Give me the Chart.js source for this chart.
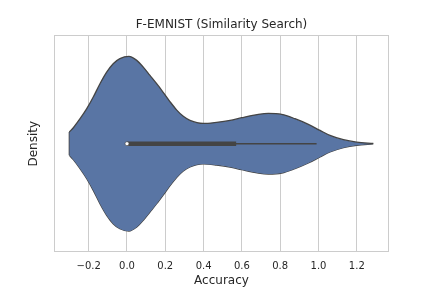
<!DOCTYPE html>
<html>
<head>
<meta charset="utf-8">
<script src="https://cdn.jsdelivr.net/npm/chart.js@4/dist/chart.umd.min.js"></script>
<style>
  html, body { margin: 0; padding: 0; background: #fff; }
  #wrap { width: 432px; height: 288px; }
</style>
</head>
<body>
<div id="wrap"><canvas id="chart" width="432" height="288"></canvas></div>
<script>
// Violin outline: accuracy grid and half-width (density, peak = 1)
const accuracyGrid = [-0.301, -0.280, -0.245, -0.210, -0.176, -0.141, -0.106, -0.072, -0.037, 0.010,
                      0.051, 0.085, 0.120, 0.155, 0.190, 0.225, 0.260, 0.294, 0.329, 0.398,
                      0.468, 0.538, 0.599, 0.686, 0.738, 0.808, 0.877, 0.947, 1.008, 1.060,
                      1.130, 1.199, 1.286];
const densityHalf = [0.133, 0.183, 0.286, 0.401, 0.534, 0.687, 0.820, 0.916, 0.974, 1.0,
                     0.954, 0.877, 0.782, 0.687, 0.585, 0.480, 0.385, 0.313, 0.267, 0.232,
                     0.245, 0.267, 0.298, 0.336, 0.347, 0.336, 0.286, 0.221, 0.152, 0.095,
                     0.046, 0.018, 0.003];

// Inner box plot
const boxRange = [0.0, 0.57];       // Q1 .. Q3
const whiskerRange = [0.0, 0.99];
const medianValue = 0.0;

const xTicks = [-0.2, 0.0, 0.2, 0.4, 0.6, 0.8, 1.0, 1.2];

const VIOLIN_FILL = '#5975a4';
const LINE_DARK = '#444444';
const GRID = '#cccccc';

Chart.defaults.font.family = "'DejaVu Sans', sans-serif";
Chart.defaults.color = '#262626';

const upper = accuracyGrid.map((x, i) => ({ x, y: densityHalf[i] }));
const lower = accuracyGrid.map((x, i) => ({ x, y: -densityHalf[i] }));
const leftEdge = [lower[0], upper[0]];

const spinePlugin = {
    id: 'spines',
    beforeDatasetsDraw(chart) {
        const { ctx, chartArea: a } = chart;
        ctx.save();
        ctx.strokeStyle = GRID;
        ctx.lineWidth = 1;
        ctx.strokeRect(Math.round(a.left) + 0.5, Math.round(a.top) + 0.5,
                       Math.round(a.right - a.left) - 1, Math.round(a.bottom - a.top) - 1);
        ctx.restore();
    }
};

const outlineStyle = {
    showLine: true,
    borderColor: LINE_DARK,
    borderWidth: 1.3,
    pointRadius: 0,
    order: 10
};

new Chart(document.getElementById('chart'), {
    type: 'scatter',
    data: {
        datasets: [
            { ...outlineStyle, label: 'upper', data: upper, fill: '+1',
              backgroundColor: VIOLIN_FILL, cubicInterpolationMode: 'monotone' },
            { ...outlineStyle, label: 'lower', data: lower, fill: false,
              cubicInterpolationMode: 'monotone' },
            { ...outlineStyle, label: 'edge', data: leftEdge, fill: false },
            {
                label: 'whisker',
                data: whiskerRange.map(x => ({ x, y: 0 })),
                showLine: true,
                borderColor: LINE_DARK,
                borderWidth: 1.6,
                pointRadius: 0,
                order: 3
            },
            {
                label: 'box',
                data: boxRange.map(x => ({ x, y: 0 })),
                showLine: true,
                borderColor: LINE_DARK,
                borderWidth: 4.5,
                pointRadius: 0,
                order: 2
            },
            {
                label: 'median',
                data: [{ x: medianValue, y: 0 }],
                pointRadius: 2,
                backgroundColor: '#ffffff',
                borderColor: LINE_DARK,
                borderWidth: 0.6,
                order: 1
            }
        ]
    },
    options: {
        responsive: false,
        animation: false,
        layout: { padding: { left: 11, right: 0, top: 0, bottom: 0 } },
        plugins: {
            legend: { display: false },
            tooltip: { enabled: false },
            title: {
                display: true,
                text: 'F-EMNIST (Similarity Search)',
                font: { size: 12, weight: 'normal' },
                color: '#262626',
                padding: { top: 18, bottom: 3 }
            }
        },
        scales: {
            x: {
                type: 'linear',
                min: -0.381,
                max: 1.368,
                afterFit: (s) => { s.height = 36; },
                afterBuildTicks: (s) => { s.ticks = xTicks.map(v => ({ value: v })); },
                ticks: {
                    font: { size: 10 },
                    padding: 8,
                    callback: (v) => (Math.abs(v) < 1e-9 ? 0 : v).toFixed(1).replace('-', '\u2212')
                },
                grid: { color: GRID, lineWidth: 1, drawTicks: false },
                border: { display: false },
                title: { display: true, text: 'Accuracy', font: { size: 12 }, padding: { top: 0, bottom: 0 } }
            },
            y: {
                min: -1.24,
                max: 1.24,
                afterFit: (s) => { s.width = 43; },
                ticks: { display: false },
                grid: { display: false },
                border: { display: false },
                title: { display: true, text: 'Density', font: { size: 12 }, padding: { top: 16, bottom: 0 } }
            },
            y2: {
                position: 'right',
                display: true,
                afterFit: (s) => { s.width = 43; },
                ticks: { display: false },
                grid: { display: false },
                border: { display: false }
            }
        }
    },
    plugins: [spinePlugin]
});
</script>
</body>
</html>
